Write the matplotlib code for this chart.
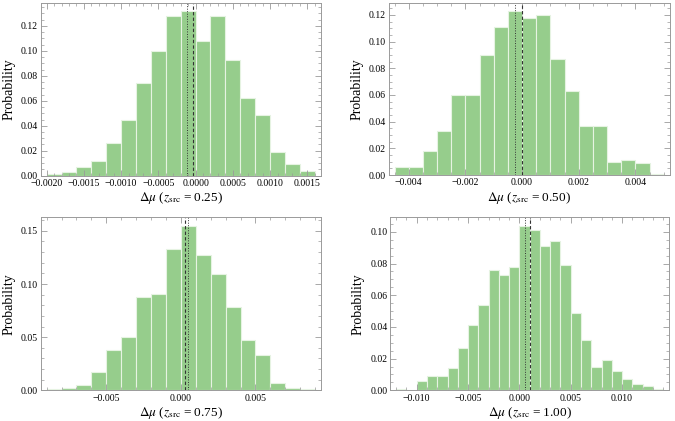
import numpy as np
import matplotlib
matplotlib.use("Agg")
import matplotlib.pyplot as plt
from matplotlib.ticker import MultipleLocator, AutoMinorLocator, FuncFormatter

plt.rcParams['font.family'] = ['Liberation Serif', 'DejaVu Serif']
plt.rcParams['mathtext.fontset'] = 'stix'

# histogram data, one set per source redshift
z_labels = ['0.25', '0.50', '0.75', '1.00']

bin_start = [-0.0020, -0.0045, -0.009, -0.012]
bin_width = [0.0002, 0.0005, 0.001, 0.001]

prob_025 = [0.001, 0.003, 0.007, 0.012, 0.026, 0.045, 0.074, 0.100, 0.128,
            0.132, 0.108, 0.128, 0.093, 0.062, 0.049, 0.019, 0.009, 0.004]
prob_050 = [0.006, 0.006, 0.018, 0.033, 0.060, 0.060, 0.090, 0.111, 0.123,
            0.118, 0.120, 0.087, 0.063, 0.037, 0.037, 0.010, 0.011, 0.009, 0.001]
prob_075 = [0.001, 0.002, 0.005, 0.017, 0.038, 0.050, 0.088, 0.091, 0.133,
            0.155, 0.127, 0.109, 0.078, 0.047, 0.033, 0.007, 0.002, 0.001]
prob_100 = [0.001, 0.000, 0.006, 0.009, 0.009, 0.014, 0.027, 0.041, 0.054,
            0.076, 0.073, 0.078, 0.104, 0.101, 0.091, 0.094, 0.079, 0.049,
            0.032, 0.015, 0.019, 0.012, 0.007, 0.004, 0.003, 0.001]
probs = [prob_025, prob_050, prob_075, prob_100]

# vertical reference lines
dotted_x = [-0.00011, -0.00024, 0.00045, 0.0005]
dashed_x = [-0.00004, 0.0, 0.0003, 0.001]

x_major = [0.0005, 0.002, 0.005, 0.005]
x_decimals = [4, 3, 3, 3]
y_major = [0.02, 0.02, 0.05, 0.02]

# axes boxes in pixels: left, top, right, bottom
boxes = [(40.7, 2.7, 320.7, 175.7), (388.7, 2.7, 669.7, 175.0),
         (40.7, 217.3, 321.0, 390.3), (390.3, 217.3, 669.0, 390.3)]

W, H = 675, 421
fig = plt.figure(figsize=(W / 100, H / 100), dpi=100)

bar_face = '#96cd8c'
bar_edge = '#e6f3e2'
frame = '#9a9a9a'


def fmt(dec):
    return FuncFormatter(lambda v, p: f"{v:.{dec}f}".replace('-', '\u2212')
                         if abs(v) > 1e-12 else f"{0:.{dec}f}")


for i in range(4):
    l, t, r, b = boxes[i]
    ax = fig.add_axes([l / W, 1 - b / H, (r - l) / W, (b - t) / H])
    n = len(probs[i])
    edges = bin_start[i] + bin_width[i] * np.arange(n + 1)
    ax.bar(edges[:-1], probs[i], width=bin_width[i], align='edge',
           color=bar_face, edgecolor=bar_edge, linewidth=0.8)
    ax.axvline(dotted_x[i], color='#333333', lw=0.7, ls=(0, (1, 1.6)))
    ax.axvline(dashed_x[i], color='#333333', lw=0.8, ls=(0, (3, 2)))

    pad = 0.022 * (edges[-1] - edges[0])
    ax.set_xlim(edges[0] - pad, edges[-1] + pad)
    ax.set_ylim(0, max(probs[i]) * 1.05)

    ax.xaxis.set_major_locator(MultipleLocator(x_major[i]))
    ax.yaxis.set_major_locator(MultipleLocator(y_major[i]))
    ax.xaxis.set_minor_locator(AutoMinorLocator())
    ax.yaxis.set_minor_locator(AutoMinorLocator())
    ax.xaxis.set_major_formatter(fmt(x_decimals[i]))
    ax.yaxis.set_major_formatter(fmt(2))

    ax.tick_params(which='both', direction='in', top=True, right=True,
                   color=frame, labelsize=7)
    ax.tick_params(axis='x', pad=2.5)
    ax.tick_params(axis='y', pad=2)
    ax.tick_params(which='major', length=4, width=0.6)
    ax.tick_params(which='minor', length=2, width=0.5)
    for s in ax.spines.values():
        s.set_color(frame)
        s.set_linewidth(0.7)

    ax.set_ylabel('Probability', fontsize=10, labelpad=4)
    ax.set_xlabel(r'$\Delta\mu$ ($z_{\mathrm{src}}$ = ' + z_labels[i] + ')',
                  fontsize=9.5, labelpad=1.5)

plt.savefig('out.png', dpi=100)
